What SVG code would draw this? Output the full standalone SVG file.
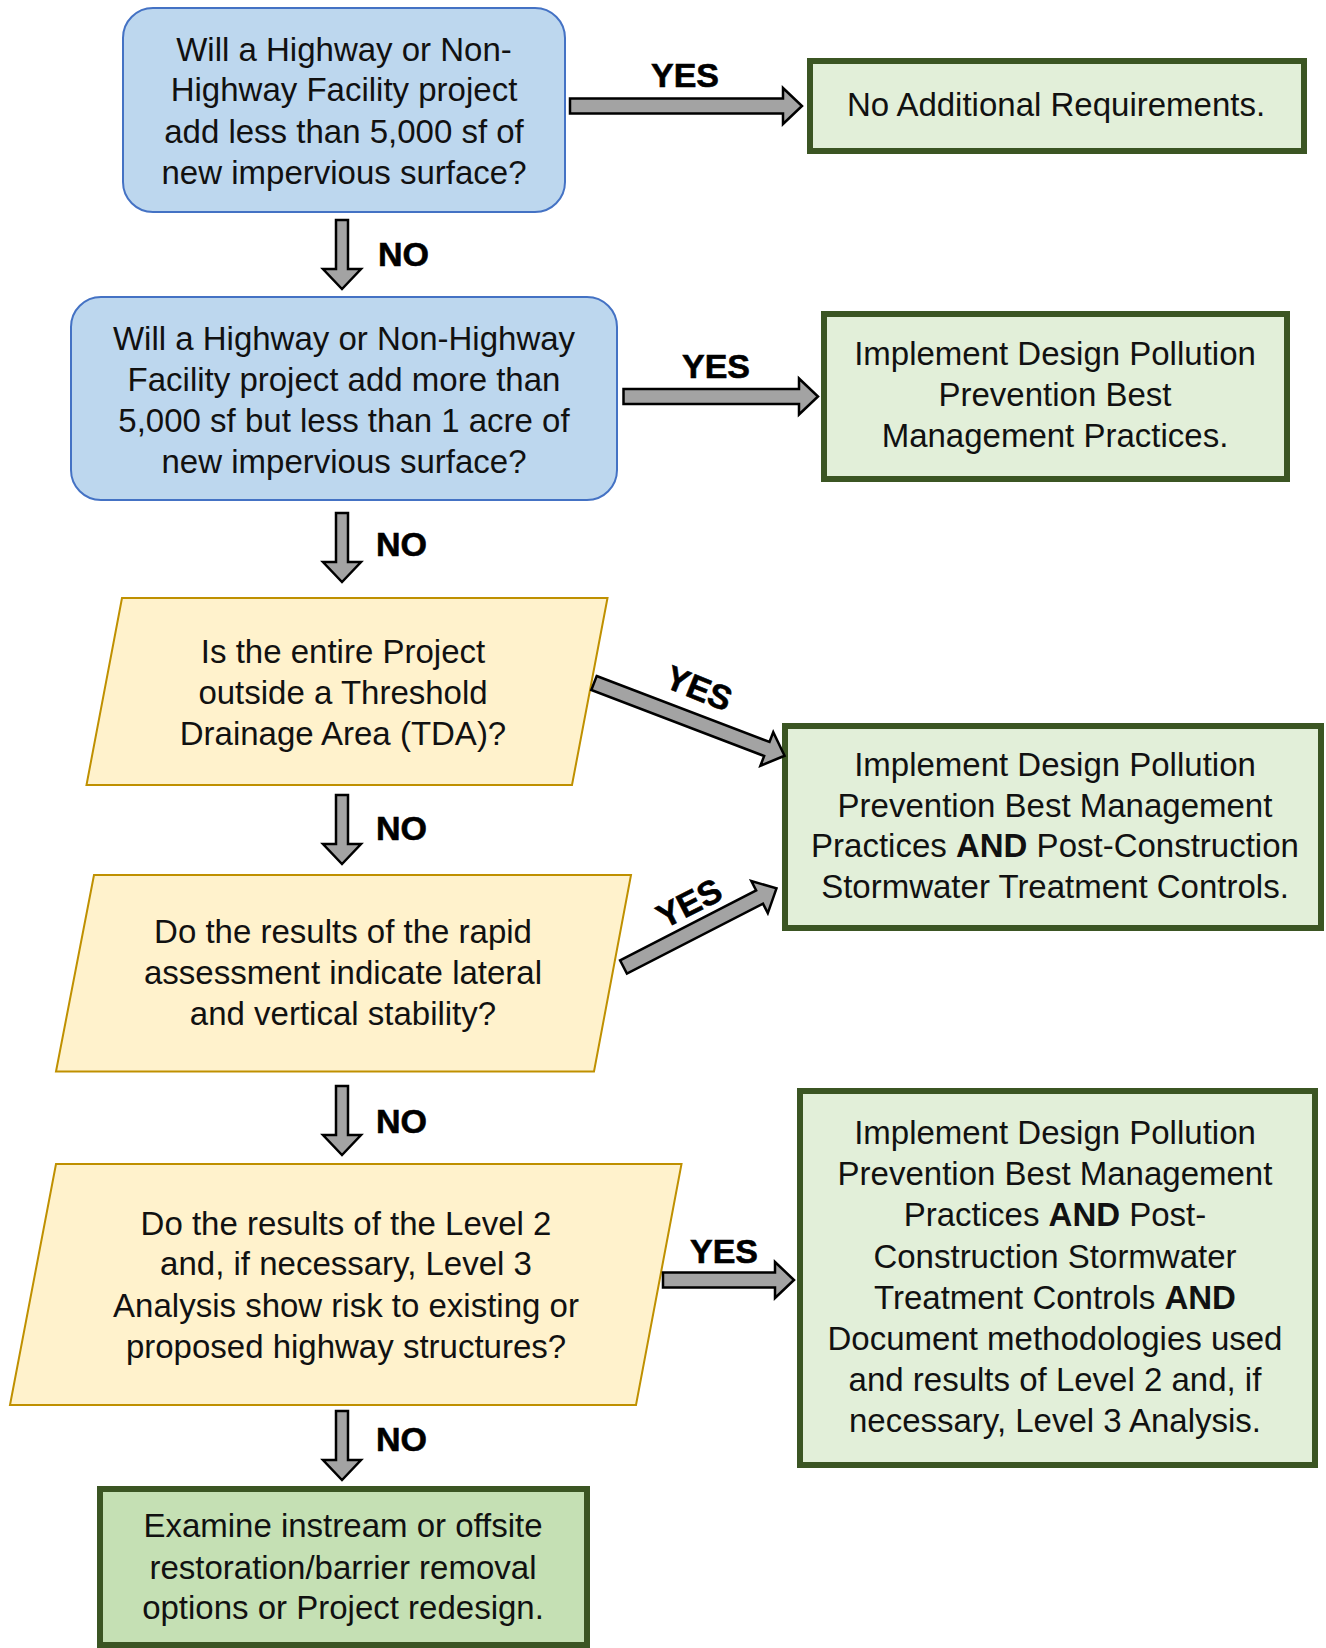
<svg xmlns="http://www.w3.org/2000/svg" width="1326" height="1648" viewBox="0 0 1326 1648">
<style>
text{font-family:"Liberation Sans",Arial,sans-serif;fill:#111;}
.t{font-size:33px;text-anchor:middle;}
.lbl{font-size:34px;font-weight:bold;stroke:#000;stroke-width:0.6;fill:#000;}
.blue{fill:#bdd7ee;stroke:#4472c4;stroke-width:2;}
.yel{fill:#fff2cc;stroke:#bf9000;stroke-width:2;}
.grn{fill:#e2efd9;stroke:#3b5523;stroke-width:6;}
.grn2{fill:#c5e0b4;stroke:#3b5523;stroke-width:6;}
.arr{fill:#a3a3a3;stroke:#000;stroke-width:2.5;stroke-linejoin:miter;}
b{font-weight:bold}
</style>
<defs>
<path id="down" d="M-6,0 H6 V49 H19 L0,69 L-19,49 H-6 Z"/>
</defs>

<g id="q1">
<rect class="blue" x="123" y="8" width="442" height="204" rx="30"/>
<text class="t" x="344" y="61">Will a Highway or Non-</text>
<text class="t" x="344" y="101">Highway Facility project</text>
<text class="t" x="344" y="142.5">add less than 5,000 sf of</text>
<text class="t" x="344" y="184">new impervious surface?</text>
</g>

<g id="r1">
<rect class="grn" x="810" y="61" width="494" height="90"/>
<text class="t" x="1056" y="116">No Additional Requirements.</text>
</g>

<g id="q2">
<rect class="blue" x="71" y="297" width="546" height="203" rx="30"/>
<text class="t" x="344" y="349.5">Will a Highway or Non-Highway</text>
<text class="t" x="344" y="390.5">Facility project add more than</text>
<text class="t" x="344" y="431.5">5,000 sf but less than 1 acre of</text>
<text class="t" x="344" y="472.5">new impervious surface?</text>
</g>

<g id="r2">
<rect class="grn" x="824" y="314" width="463" height="165"/>
<text class="t" x="1055" y="365">Implement Design Pollution</text>
<text class="t" x="1055" y="405.5">Prevention Best</text>
<text class="t" x="1055" y="446.5">Management Practices.</text>
</g>

<g id="q3">
<polygon class="yel" points="122,598 607.5,598 572,785 86.5,785"/>
<text class="t" x="343" y="663">Is the entire Project</text>
<text class="t" x="343" y="704">outside a Threshold</text>
<text class="t" x="343" y="745">Drainage Area (TDA)?</text>
</g>

<g id="r3">
<rect class="grn" x="785" y="726" width="536" height="202"/>
<text class="t" x="1055" y="776">Implement Design Pollution</text>
<text class="t" x="1055" y="816.5">Prevention Best Management</text>
<text class="t" x="1055" y="857">Practices <tspan font-weight="bold">AND</tspan> Post-Construction</text>
<text class="t" x="1055" y="897.5">Stormwater Treatment Controls.</text>
</g>

<g id="q4">
<polygon class="yel" points="94,875 631,875 594,1071.5 56,1071.5"/>
<text class="t" x="343" y="943">Do the results of the rapid</text>
<text class="t" x="343" y="984">assessment indicate lateral</text>
<text class="t" x="343" y="1025">and vertical stability?</text>
</g>

<g id="q5">
<polygon class="yel" points="56,1164 681.5,1164 636,1405 10,1405"/>
<text class="t" x="346" y="1234.5">Do the results of the Level 2</text>
<text class="t" x="346" y="1275">and, if necessary, Level 3</text>
<text class="t" x="346" y="1316.5">Analysis show risk to existing or</text>
<text class="t" x="346" y="1358">proposed highway structures?</text>
</g>

<g id="r5">
<rect class="grn" x="800" y="1091" width="515" height="374"/>
<text class="t" x="1055" y="1144">Implement Design Pollution</text>
<text class="t" x="1055" y="1185">Prevention Best Management</text>
<text class="t" x="1055" y="1226">Practices <tspan font-weight="bold">AND</tspan> Post-</text>
<text class="t" x="1055" y="1267.5">Construction Stormwater</text>
<text class="t" x="1055" y="1308.5">Treatment Controls <tspan font-weight="bold">AND</tspan></text>
<text class="t" x="1055" y="1350">Document methodologies used</text>
<text class="t" x="1055" y="1391">and results of Level 2 and, if</text>
<text class="t" x="1055" y="1432">necessary, Level 3 Analysis.</text>
</g>

<g id="end">
<rect class="grn2" x="100" y="1489" width="487" height="156"/>
<text class="t" x="343" y="1537">Examine instream or offsite</text>
<text class="t" x="343" y="1579">restoration/barrier removal</text>
<text class="t" x="343" y="1619">options or Project redesign.</text>
</g>

<g id="connectors">
<use href="#down" class="arr" x="342" y="220"/>
<use href="#down" class="arr" x="342" y="513"/>
<use href="#down" class="arr" x="342" y="795"/>
<use href="#down" class="arr" x="342" y="1086"/>
<use href="#down" class="arr" x="342" y="1411"/>
<text class="lbl" x="378" y="266">NO</text>
<text class="lbl" x="376" y="556">NO</text>
<text class="lbl" x="376" y="840">NO</text>
<text class="lbl" x="376" y="1133">NO</text>
<text class="lbl" x="376" y="1451">NO</text>

<path class="arr" transform="translate(570,106)" d="M0,-7.5 H213 V-18 L232,0 L213,18 V7.5 H0 Z"/>
<path class="arr" transform="translate(623.5,396.5)" d="M0,-7.5 H175.5 V-18 L194.5,0 L175.5,18 V7.5 H0 Z"/>
<path class="arr" transform="translate(594,683) rotate(20.9)" d="M0,-7.5 H185 V-18 L204,0 L185,18 V7.5 H0 Z"/>
<path class="arr" transform="translate(623.5,967) rotate(-27.2)" d="M0,-7.5 H153 V-18 L172,0 L153,18 V7.5 H0 Z"/>
<path class="arr" transform="translate(663,1280)" d="M0,-7.5 H112 V-18 L131,0 L112,18 V7.5 H0 Z"/>
<text class="lbl" x="685" y="87" text-anchor="middle">YES</text>
<text class="lbl" x="716" y="378" text-anchor="middle">YES</text>
<text class="lbl" x="724" y="1263" text-anchor="middle">YES</text>
<text class="lbl" transform="translate(699,688) rotate(22)" x="0" y="12" text-anchor="middle">YES</text>
<text class="lbl" transform="translate(689,903) rotate(-27)" x="0" y="12" text-anchor="middle">YES</text>
</g>
</svg>
